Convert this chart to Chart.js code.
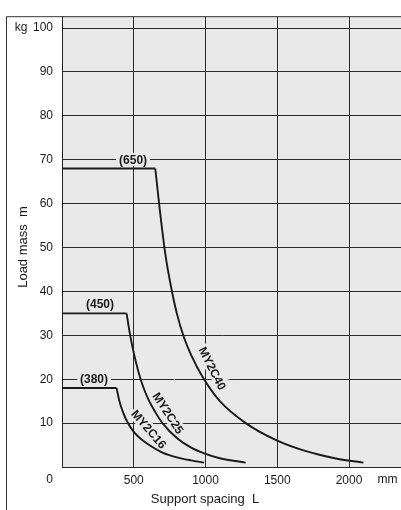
<!DOCTYPE html>
<html>
<head>
<meta charset="utf-8">
<title>Load mass vs support spacing</title>
<script src="https://cdn.jsdelivr.net/npm/chart.js@4/dist/chart.umd.min.js"></script>
<style>
    html, body { margin: 0; padding: 0; background: #fff; }
    canvas { display: block; }
</style>
</head>
<body>
<canvas id="chart" width="401" height="510"></canvas>
<script>
// support spacing L (mm) / allowable load mass m (kg)
const my2c16Spacing = [0, 380, 400, 425, 450, 500, 550, 600, 700, 800, 900, 990];
const my2c16Mass = [18, 18, 15, 12.5, 10.6, 8, 6.4, 5.2, 3.3, 2.2, 1.5, 1];

const my2c25Spacing = [0, 450, 475, 500, 530, 560, 600, 650, 700, 800, 900, 1000, 1100, 1280];
const my2c25Mass = [35, 35, 30, 26, 22, 18.8, 15.5, 12.5, 10, 6.6, 4.4, 3, 2, 1];

const my2c40Spacing = [0, 650, 680, 720, 760, 800, 850, 900, 980, 1100, 1280, 1500, 1700, 1900, 2100];
const my2c40Mass = [68, 68, 59, 48.5, 41, 35, 29.5, 25.5, 20.5, 15, 10, 6, 3.6, 2, 1];

const models = ['MY2C16', 'MY2C25', 'MY2C40'];
const kneeLabels = ['(380)', '(450)', '(650)'];

const xTicks = [500, 1000, 1500, 2000];
const yTicks = [10, 20, 30, 40, 50, 60, 70, 80, 90, 100];

document.addEventListener('DOMContentLoaded', () => {
    const ctx = document.getElementById('chart').getContext('2d');
    const bg = '#e8e9e8';
    const ink = '#1a1a1a';
    const family = '"Liberation Sans", Arial, Helvetica, sans-serif';

    const series = [
        { x: my2c16Spacing, y: my2c16Mass },
        { x: my2c25Spacing, y: my2c25Mass },
        { x: my2c40Spacing, y: my2c40Mass }
    ];

    const toPoints = (xs, ys) => xs.map((x, i) => ({ x: x, y: ys[i] }));

    // flat part drawn straight, the falling part smoothed, so the knee stays sharp
    const datasets = [];
    series.forEach((s, i) => {
        const pts = toPoints(s.x, s.y);
        datasets.push({
            label: models[i] + ' flat',
            data: pts.slice(0, 2),
            borderColor: ink,
            borderWidth: 1.9,
            pointRadius: 0,
            tension: 0
        });
        datasets.push({
            label: models[i],
            data: pts.slice(1),
            borderColor: ink,
            borderWidth: 1.9,
            pointRadius: 0,
            cubicInterpolationMode: 'monotone'
        });
    });

    // where the notes sit, in data units: [L, m, angle]
    const kneeSpots = [[223, 20], [265, 37], [495, 70]];
    const modelSpots = [[601, 8.5, 49], [735, 12.2, 57], [1043, 22.4, 63]];

    const decor = {
        id: 'decor',
        beforeDraw(chart) {
            const a = chart.chartArea;
            const c = chart.ctx;
            c.save();
            c.fillStyle = bg;
            c.fillRect(a.left, a.top, a.right - a.left, a.bottom - a.top);
            c.restore();
        },
        beforeDatasetsDraw(chart) {
            const c = chart.ctx;
            const xs = chart.scales.x;
            const ys = chart.scales.y;
            c.save();
            c.font = 'bold 12px ' + family;
            c.textAlign = 'center';
            c.textBaseline = 'middle';
            kneeLabels.forEach((txt, i) => {
                const px = xs.getPixelForValue(kneeSpots[i][0]);
                const py = ys.getPixelForValue(kneeSpots[i][1]);
                const w = c.measureText(txt).width;
                c.fillStyle = bg;
                c.fillRect(px - w / 2 - 3, py - 7, w + 6, 13.5);
                c.fillStyle = ink;
                c.fillText(txt, px, py + 0.5);
            });
            models.forEach((txt, i) => {
                const px = xs.getPixelForValue(modelSpots[i][0]);
                const py = ys.getPixelForValue(modelSpots[i][1]);
                c.save();
                c.translate(px, py);
                c.rotate(modelSpots[i][2] * Math.PI / 180);
                c.lineWidth = 5;
                c.strokeStyle = bg;
                c.strokeText(txt, 0, 0);
                c.fillStyle = ink;
                c.fillText(txt, 0, 0);
                c.restore();
            });
            c.restore();
        },
        afterDraw(chart) {
            const a = chart.chartArea;
            const c = chart.ctx;
            const ys = chart.scales.y;
            c.save();
            // outer frame: left and top rules
            c.strokeStyle = '#333';
            c.lineWidth = 1;
            c.beginPath();
            c.moveTo(6.5, chart.height);
            c.lineTo(6.5, a.top + 0.5);
            c.lineTo(chart.width, a.top + 0.5);
            c.stroke();

            c.fillStyle = ink;
            c.font = '12px ' + family;
            c.textBaseline = 'middle';
            c.textAlign = 'right';
            c.fillText('kg', 27.5, ys.getPixelForValue(100));
            c.fillText('0', 53, 480);
            c.textAlign = 'center';
            c.fillText('mm', 387.5, 480);

            c.font = '13px ' + family;
            c.textBaseline = 'alphabetic';
            c.fillText('Support spacing  L', 205, 503);
            c.save();
            c.translate(27, 247);
            c.rotate(-Math.PI / 2);
            c.fillText('Load mass  m', 0, 0);
            c.restore();
            c.restore();
        }
    };

    new Chart(ctx, {
        type: 'line',
        data: { datasets: datasets },
        options: {
            responsive: false,
            animation: false,
            devicePixelRatio: 1,
            layout: { padding: { top: 7, right: 0, bottom: 0, left: 0 } },
            plugins: {
                legend: { display: false },
                tooltip: { enabled: false }
            },
            scales: {
                x: {
                    type: 'linear',
                    min: 0,
                    max: 2362,
                    afterFit: scale => { scale.height = 43; },
                    afterBuildTicks: scale => { scale.ticks = xTicks.map(v => ({ value: v })); },
                    grid: { color: '#2a2a2a', lineWidth: 1, drawTicks: false },
                    border: { display: true, color: '#222', width: 1 },
                    ticks: {
                        color: ink,
                        padding: 6,
                        maxRotation: 0,
                        font: { family: family, size: 12 },
                        callback: value => String(value)
                    }
                },
                y: {
                    min: 0,
                    max: 102.7,
                    afterFit: scale => { scale.width = 62; },
                    afterBuildTicks: scale => { scale.ticks = yTicks.map(v => ({ value: v })); },
                    grid: { color: '#2a2a2a', lineWidth: 1, drawTicks: false },
                    border: { display: true, color: '#222', width: 1 },
                    ticks: {
                        color: ink,
                        padding: 9,
                        font: { family: family, size: 12 },
                        callback: value => String(value)
                    }
                }
            }
        },
        plugins: [decor]
    });
});
</script>
</body>
</html>
